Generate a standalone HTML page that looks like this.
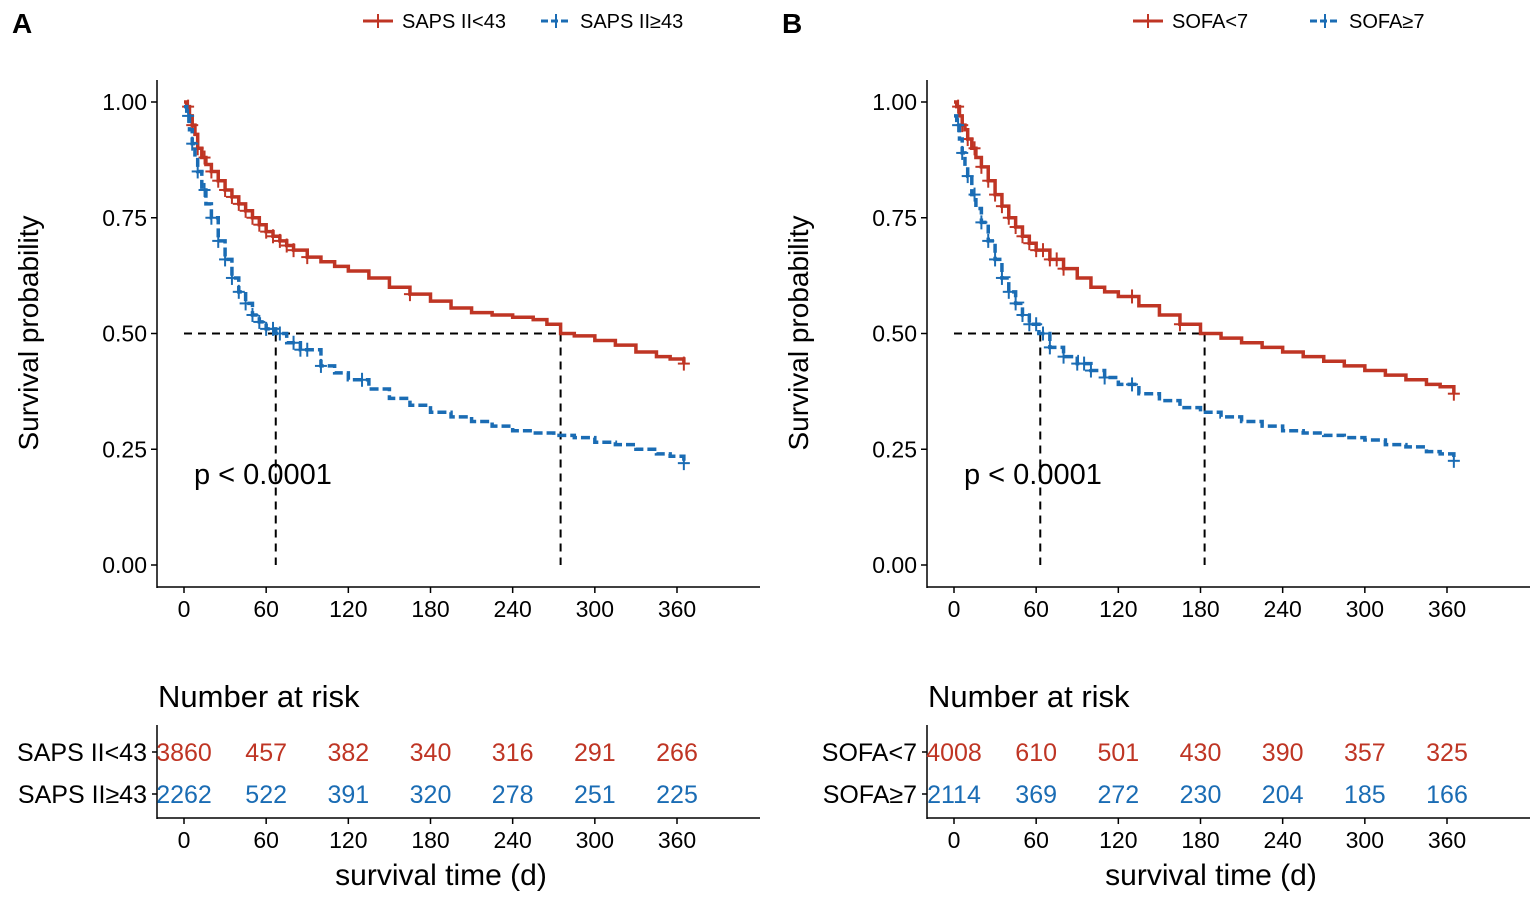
<!DOCTYPE html>
<html><head><meta charset="utf-8"><style>
body{margin:0;background:#fff}
svg{font-family:"Liberation Sans",sans-serif}
</style></head><body>
<svg id="chart" width="1535" height="900" viewBox="0 0 1535 900"></svg>
<script>
const ticksX=[0,60,120,180,240,300,360];
const ticksY=[0,0.25,0.5,0.75,1.0];
const tickYLabels=["0.00","0.25","0.50","0.75","1.00"];
const aRedT=[0,2,4,6,8,10,13,16,20,25,30,35,40,45,50,55,60,65,70,75,80,90,100,110,120,135,150,165,180,195,210,225,240,255,265,275,285,300,315,330,345,355,365];
const aRedS=[1.0,0.99,0.97,0.95,0.93,0.90,0.88,0.865,0.85,0.83,0.81,0.795,0.78,0.765,0.75,0.735,0.72,0.71,0.70,0.69,0.68,0.665,0.655,0.645,0.635,0.62,0.60,0.585,0.57,0.555,0.545,0.54,0.535,0.53,0.52,0.50,0.495,0.485,0.475,0.46,0.45,0.445,0.435];
const aBlueT=[0,2,4,6,8,10,13,16,20,25,30,35,40,45,50,55,60,67,75,85,100,110,120,135,150,165,180,195,210,225,240,255,270,285,300,315,330,345,355,365];
const aBlueS=[0.99,0.97,0.94,0.91,0.88,0.85,0.81,0.78,0.75,0.70,0.66,0.62,0.59,0.565,0.54,0.525,0.51,0.50,0.48,0.465,0.43,0.415,0.40,0.38,0.36,0.345,0.33,0.32,0.31,0.30,0.29,0.285,0.28,0.275,0.265,0.26,0.25,0.24,0.235,0.22];
const bRedT=[0,2,4,6,8,10,13,16,20,25,30,35,40,45,50,55,60,70,80,90,100,110,120,135,150,165,180,195,210,225,240,255,270,285,300,315,330,345,355,365];
const bRedS=[1.0,0.99,0.97,0.95,0.94,0.92,0.90,0.88,0.86,0.83,0.80,0.775,0.75,0.73,0.71,0.695,0.68,0.66,0.64,0.62,0.60,0.59,0.58,0.56,0.54,0.52,0.50,0.49,0.48,0.47,0.46,0.45,0.44,0.43,0.42,0.41,0.40,0.39,0.385,0.37];
const bBlueT=[0,2,4,6,8,10,13,16,20,25,30,35,40,45,50,55,62,70,80,90,100,110,120,135,150,165,180,195,210,225,240,255,270,285,300,315,330,345,355,365];
const bBlueS=[0.97,0.95,0.92,0.89,0.86,0.84,0.80,0.77,0.74,0.70,0.66,0.62,0.59,0.565,0.54,0.52,0.50,0.47,0.45,0.435,0.42,0.405,0.39,0.37,0.355,0.34,0.33,0.32,0.31,0.30,0.29,0.285,0.28,0.275,0.27,0.26,0.255,0.245,0.24,0.225];
const aRedCens=[3,6,10,15,20,25,30,35,40,45,50,55,60,65,70,75,80,90,165,365];
const aBlueCens=[3,6,10,15,20,25,30,35,40,45,50,55,60,65,70,80,85,90,100,130,365];
const bRedCens=[3,6,10,15,20,25,30,35,40,45,50,55,60,65,70,75,80,130,165,365];
const bBlueCens=[3,6,10,15,20,25,30,35,40,45,50,55,60,65,70,80,90,95,100,110,130,365];
const aMedians=[67,275];
const bMedians=[63,183];
const aRiskRed=[3860,457,382,340,316,291,266];
const aRiskBlue=[2262,522,391,320,278,251,225];
const bRiskRed=[4008,610,501,430,390,357,325];
const bRiskBlue=[2114,369,272,230,204,185,166];
const RED="#BF3524",BLUE="#1A6CB4";
const svg=document.getElementById('chart');
const NS="http://www.w3.org/2000/svg";
function mk(tag,attrs,parent,text){const e=document.createElementNS(NS,tag);for(const k in attrs)e.setAttribute(k,attrs[k]);if(text!==undefined)e.textContent=text;(parent||svg).appendChild(e);return e;}
function survAt(T,S,t){let s=S[0];for(let i=0;i<T.length;i++){if(T[i]<=t)s=S[i];}return s;}
function panel(ox,letter,names,rT,rS,bT,bS,rC,bC,meds,riskR,riskB){
  const g=mk('g',{});
  
  
  const x0=ox+184, kx=493/360;
  const X=t=>x0+t*kx, Y=s=>565-s*463;
  const axX=ox+157;
  let t=mk('text',{x:ox+12,y:33,'font-size':28,'font-weight':'bold'},g,letter);
  
  const lg=mk('g',{},g);
  const lx=letter==='A'?[363,541]:[1133,1310];
  [[RED,names[0],''],[BLUE,names[1],'7,3']].forEach((d,i)=>{
    const e=mk('g',{},lg);
    mk('line',{x1:lx[i],x2:lx[i]+30,y1:21,y2:21,stroke:d[0],'stroke-width':3,'stroke-dasharray':d[2]},e);
    mk('line',{x1:lx[i]+15,x2:lx[i]+15,y1:14,y2:28,stroke:d[0],'stroke-width':2},e);
    mk('text',{x:lx[i]+39,y:28,'font-size':20},e,d[1]);
  });
  const ax=mk('g',{},g);
  mk('line',{x1:axX,x2:axX,y1:80,y2:588,stroke:'#000','stroke-width':1.5},ax);
  mk('line',{x1:axX,x2:ox+760,y1:587,y2:587,stroke:'#000','stroke-width':1.5},ax);
  ticksY.forEach((v,i)=>{mk('line',{x1:axX-6,x2:axX,y1:Y(v),y2:Y(v),stroke:'#000','stroke-width':1.5},ax);
    mk('text',{x:axX-10,y:Y(v)+8,'font-size':23,'text-anchor':'end'},ax,tickYLabels[i]);});
  ticksX.forEach(v=>{mk('line',{x1:X(v),x2:X(v),y1:587,y2:593,stroke:'#000','stroke-width':1.5},ax);
    mk('text',{x:X(v),y:617,'font-size':23,'text-anchor':'middle'},ax,v);});
  t=mk('text',{transform:`translate(${ox+38},333) rotate(-90)`,'font-size':28,'text-anchor':'middle'},g,'Survival probability');
  
  const md=mk('g',{stroke:'#000','stroke-width':2,'stroke-dasharray':'8,6',fill:'none'},g);
  
  mk('line',{x1:X(0),x2:X(meds[1]),y1:Y(0.5),y2:Y(0.5)},md);
  meds.forEach(m=>mk('line',{x1:X(m),x2:X(m),y1:Y(0.5),y2:Y(0)},md));
  [[rT,rS,RED,'',rC],[bT,bS,BLUE,'9,4',bC]].forEach(c=>{
    let d=`M${X(c[0][0])},${Y(c[1][0])}`;
    for(let i=1;i<c[0].length;i++){d+=`H${X(c[0][i])}V${Y(c[1][i])}`;}
    const p=mk('path',{d,fill:'none',stroke:c[2],'stroke-width':3.5,'stroke-dasharray':c[3]},g);
    
    const cm=mk('g',{stroke:c[2],'stroke-width':2},g);
    
    c[4].forEach(ct=>{const x=X(ct),y=Y(survAt(c[0],c[1],ct));
      mk('line',{x1:x-6,x2:x+6,y1:y,y2:y},cm);mk('line',{x1:x,x2:x,y1:y-7,y2:y+7},cm);});
  });
  t=mk('text',{x:ox+194,y:484,'font-size':29},g,'p < 0.0001');
  
  const rt=mk('g',{},g);
  mk('text',{x:axX+1,y:707,'font-size':31},rt,'Number at risk');
  mk('line',{x1:axX,x2:axX,y1:725,y2:819,stroke:'#000','stroke-width':1.5},rt);
  mk('line',{x1:axX,x2:ox+760,y1:818,y2:818,stroke:'#000','stroke-width':1.5},rt);
  [[riskR,RED,752,names[0]],[riskB,BLUE,794,names[1]]].forEach(r=>{
    mk('text',{x:axX-10,y:r[2]+9,'font-size':25,'text-anchor':'end'},rt,r[3]);
    mk('line',{x1:axX-5,x2:axX,y1:r[2],y2:r[2],stroke:'#000','stroke-width':1.5},rt);
    r[0].forEach((v,i)=>mk('text',{x:X(ticksX[i]),y:r[2]+9,'font-size':25,fill:r[1],'text-anchor':'middle'},rt,v));
  });
  ticksX.forEach(v=>{mk('line',{x1:X(v),x2:X(v),y1:818,y2:824,stroke:'#000','stroke-width':1.5},rt);
    mk('text',{x:X(v),y:848,'font-size':23,'text-anchor':'middle'},rt,v);});
  t=mk('text',{x:ox+441,y:885,'font-size':30,'text-anchor':'middle'},g,'survival time (d)');
  
}
panel(0,'A',['SAPS II<43','SAPS II≥43'],aRedT,aRedS,aBlueT,aBlueS,aRedCens,aBlueCens,aMedians,aRiskRed,aRiskBlue);
panel(770,'B',['SOFA<7','SOFA≥7'],bRedT,bRedS,bBlueT,bBlueS,bRedCens,bBlueCens,bMedians,bRiskRed,bRiskBlue);
</script>
</body></html>
